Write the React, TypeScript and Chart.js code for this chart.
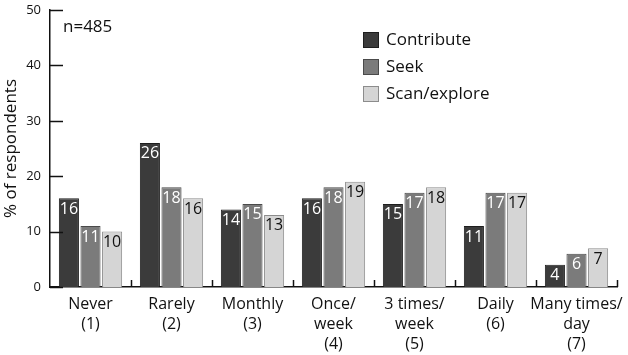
import React, { useEffect, useRef } from "react";
import { Chart, registerables } from "chart.js";

Chart.register(...registerables);

const categories: string[][] = [
  ["Never", "(1)"],
  ["Rarely", "(2)"],
  ["Monthly", "(3)"],
  ["Once/", "week", "(4)"],
  ["3 times/", "week", "(5)"],
  ["Daily", "(6)"],
  ["Many times/", "day", "(7)"],
];
const contribute = [16, 26, 14, 16, 15, 11, 4];
const seek = [11, 18, 15, 18, 17, 17, 6];
const scanExplore = [10, 16, 13, 19, 18, 17, 7];
const seriesNames = ["Contribute", "Seek", "Scan/explore"];
const fillColors = ["#3b3b3b", "#7b7b7b", "#d5d5d5"];
const edgeColors = ["#1e1e1e", "#4a4a4a", "#8c8c8c"];
const labelColors = ["#ffffff", "#ffffff", "#111111"];
const yTicks = [0, 10, 20, 30, 40, 50];
const sampleNote = "n=485";

const FONT = "'Open Sans', 'DejaVu Sans', sans-serif";

const decorPlugin = {
  id: "decor",
  afterDatasetsDraw(chart: any) {
    const ctx = chart.ctx;
    ctx.save();
    ctx.font = `16px ${FONT}`;
    ctx.textAlign = "center";
    ctx.textBaseline = "alphabetic";
    chart.data.datasets.forEach((ds: any, di: number) => {
      const meta = chart.getDatasetMeta(di);
      meta.data.forEach((bar: any, i: number) => {
        ctx.fillStyle = labelColors[di];
        ctx.fillText(String(ds.data[i]), bar.x, bar.y + 15.5);
      });
    });
    ctx.restore();
  },
  afterDraw(chart: any) {
    const ctx = chart.ctx;
    const xs = chart.scales.x;
    const ys = chart.scales.y;
    const area = chart.chartArea;
    ctx.save();
    ctx.strokeStyle = "#111";
    ctx.lineWidth = 1.5;
    yTicks.forEach((v) => {
      const y = Math.round(ys.getPixelForValue(v)) + 0.5;
      ctx.beginPath();
      ctx.moveTo(area.left, y);
      ctx.lineTo(area.left + 13, y);
      ctx.stroke();
    });
    const n = categories.length;
    const half = (xs.getPixelForValue(1) - xs.getPixelForValue(0)) / 2;
    for (let i = 0; i < n; i++) {
      const x = Math.round(xs.getPixelForValue(i) + half) + 0.5;
      ctx.beginPath();
      ctx.moveTo(x, area.bottom);
      ctx.lineTo(x, area.bottom - 7);
      ctx.stroke();
    }
    ctx.fillStyle = "#111";
    ctx.font = `17px ${FONT}`;
    ctx.textAlign = "left";
    ctx.textBaseline = "alphabetic";
    ctx.fillText(sampleNote, area.left + 13, 32);
    const lx = 363;
    const ly = 32;
    chart.data.datasets.forEach((ds: any, di: number) => {
      const y = ly + di * 27;
      ctx.fillStyle = fillColors[di];
      ctx.fillRect(lx, y, 16, 16);
      ctx.strokeStyle = edgeColors[di];
      ctx.lineWidth = 1;
      ctx.strokeRect(lx + 0.5, y + 0.5, 15, 15);
      ctx.fillStyle = "#111";
      ctx.font = `17px ${FONT}`;
      ctx.textBaseline = "middle";
      ctx.fillText(ds.label, lx + 23, y + 8);
    });
    ctx.restore();
  },
};

export default function App() {
  const ref = useRef<HTMLCanvasElement | null>(null);
  useEffect(() => {
    if (!ref.current) return;
    const allSeries = [contribute, seek, scanExplore];
    const chart = new Chart(ref.current, {
      type: "bar",
      data: {
        labels: categories as any,
        datasets: allSeries.map((d, i) => ({
          label: seriesNames[i],
          data: d,
          backgroundColor: fillColors[i],
          borderColor: edgeColors[i],
          borderWidth: 1,
          categoryPercentage: 0.8,
          barPercentage: 0.93,
        })),
      },
      options: {
        animation: false,
        responsive: true,
        maintainAspectRatio: false,
        layout: { padding: { top: 10, right: 11, left: 0, bottom: 0 } },
        plugins: {
          legend: { display: false },
          tooltip: { enabled: false },
        },
        scales: {
          x: {
            grid: { display: false, drawTicks: false },
            border: { display: true, color: "#111", width: 1.5 },
            ticks: {
              color: "#111",
              font: { family: FONT, size: 16, lineHeight: 1.25 },
              padding: 7,
              maxRotation: 0,
              autoSkip: false,
            },
            afterFit: (s: any) => {
              s.height = 68;
              s.paddingLeft = 0;
              s.paddingRight = 0;
            },
          },
          y: {
            min: 0,
            max: 50,
            grid: { display: false, drawTicks: false },
            border: { display: true, color: "#111", width: 1.5 },
            ticks: {
              stepSize: 10,
              color: "#111",
              font: { family: FONT, size: 13 },
              padding: 9,
            },
            title: {
              display: true,
              text: "% of respondents",
              color: "#111",
              font: { family: FONT, size: 17 },
              padding: { top: 1, bottom: 0 },
            },
            afterFit: (s: any) => {
              s.width = 50;
              s.paddingTop = 0;
              s.paddingBottom = 0;
            },
          },
        },
      },
      plugins: [decorPlugin],
    });
    return () => chart.destroy();
  }, []);
  return (
    <div
      style={{
        position: "fixed",
        left: 0,
        top: 0,
        width: 628,
        height: 355,
        background: "#fff",
      }}
    >
      <canvas ref={ref} />
    </div>
  );
}
